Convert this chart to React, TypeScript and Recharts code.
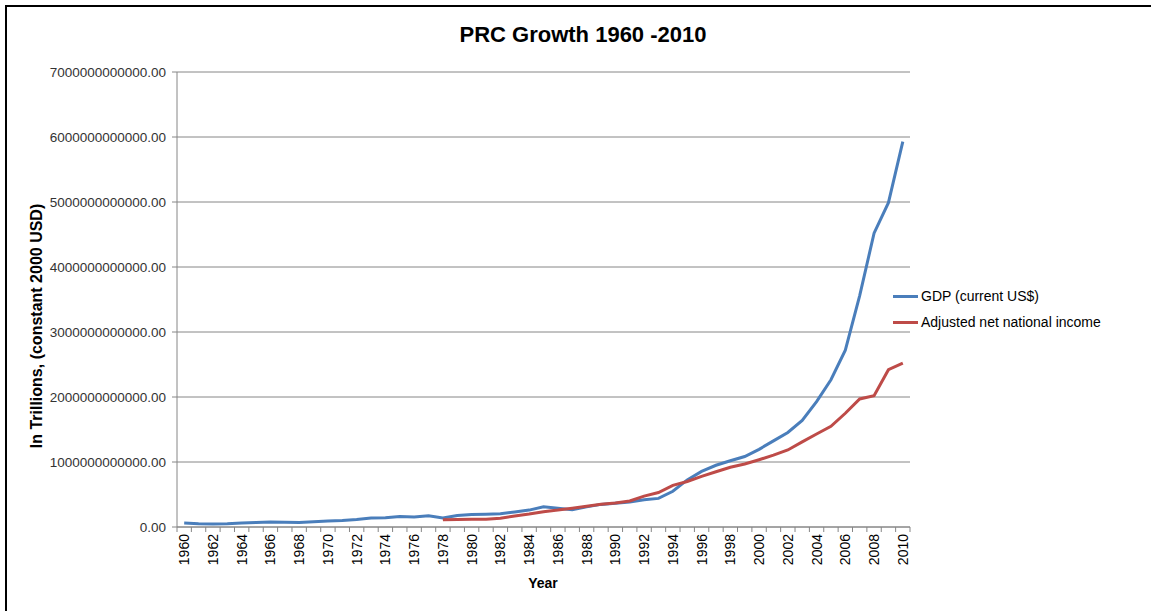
import { LineChart, Line, XAxis, YAxis, CartesianGrid } from 'recharts'

const years = [
  1960, 1961, 1962, 1963, 1964, 1965, 1966, 1967, 1968, 1969,
  1970, 1971, 1972, 1973, 1974, 1975, 1976, 1977, 1978, 1979,
  1980, 1981, 1982, 1983, 1984, 1985, 1986, 1987, 1988, 1989,
  1990, 1991, 1992, 1993, 1994, 1995, 1996, 1997, 1998, 1999,
  2000, 2001, 2002, 2003, 2004, 2005, 2006, 2007, 2008, 2009, 2010,
]

// values in trillions of USD
const gdp = [
  0.06, 0.05, 0.047, 0.051, 0.06, 0.07, 0.077, 0.073, 0.071, 0.08,
  0.093, 0.1, 0.114, 0.139, 0.144, 0.163, 0.154, 0.172, 0.14, 0.178,
  0.191, 0.196, 0.205, 0.231, 0.26, 0.31, 0.29, 0.265, 0.31, 0.348,
  0.365, 0.385, 0.42, 0.44, 0.55, 0.725, 0.855, 0.95, 1.02, 1.085,
  1.195, 1.325, 1.455, 1.64, 1.93, 2.265, 2.72, 3.56, 4.52, 4.99, 5.93,
]

const netIncome = [
  null, null, null, null, null, null, null, null, null, null,
  null, null, null, null, null, null, null, null, 0.11, 0.115,
  0.118, 0.118, 0.135, 0.17, 0.2, 0.235, 0.26, 0.29, 0.32, 0.35,
  0.37, 0.4, 0.475, 0.53, 0.64, 0.7, 0.78, 0.85, 0.92, 0.97,
  1.035, 1.105, 1.185, 1.31, 1.43, 1.55, 1.75, 1.97, 2.02, 2.42, 2.52,
]

const yTicks = [0, 1, 2, 3, 4, 5, 6, 7]
const TRILLION = 1e12

const data = years.map((year, i) => ({
  year,
  gdp: gdp[i] * TRILLION,
  income: netIncome[i] == null ? null : (netIncome[i] as number) * TRILLION,
}))

const W = 1151
const H = 611
const PLOT_LEFT = 177
const PLOT_RIGHT = 910
const PLOT_TOP = 72
const PLOT_BOTTOM = 527
const STEP = (PLOT_RIGHT - PLOT_LEFT) / years.length

const FONT = '"Liberation Sans", Arial, sans-serif'
const BLUE = '#4a7ebb'
const RED = '#be4b48'

function YearTick(props: any) {
  const { x, y, payload, index } = props
  const left = x - STEP / 2
  const last = index === years.length - 1
  return (
    <g>
      <line x1={left} y1={y} x2={left} y2={y + 5} stroke="#868686" />
      {last && <line x1={x + STEP / 2} y1={y} x2={x + STEP / 2} y2={y + 5} stroke="#868686" />}
      {index % 2 === 0 && (
        <text
          x={x + 5}
          y={y + 7}
          transform={`rotate(-90 ${x + 5} ${y + 7})`}
          textAnchor="end"
          fontSize={14}
          fontFamily={FONT}
          fill="#000"
        >
          {payload.value}
        </text>
      )}
    </g>
  )
}

const legendItems = [
  { label: 'GDP (current US$)', color: BLUE },
  { label: 'Adjusted net national income', color: RED },
]

export default function App() {
  return (
    <div style={{ position: 'absolute', left: 0, top: 0, width: W, height: H, overflow: 'hidden', background: '#fff' }}>
      <div
        style={{
          position: 'absolute',
          left: 5,
          top: 5,
          width: W,
          height: H,
          borderLeft: '2px solid #000',
          borderTop: '2px solid #000',
        }}
      />
      <div
        style={{
          position: 'absolute',
          left: 0,
          top: 22,
          width: 1166,
          textAlign: 'center',
          fontFamily: FONT,
          fontWeight: 'bold',
          fontSize: 22,
          color: '#000',
        }}
      >
        PRC Growth 1960 -2010
      </div>
      <div style={{ position: 'absolute', left: 0, top: 0 }}>
        <LineChart
          width={W}
          height={H}
          data={data}
          margin={{ top: PLOT_TOP, right: W - PLOT_RIGHT, bottom: 0, left: 0 }}
        >
          <CartesianGrid vertical={false} stroke="#868686" />
          <XAxis
            dataKey="year"
            type="number"
            domain={[1959.5, 2010.5]}
            ticks={years}
            interval={0}
            height={H - PLOT_BOTTOM}
            tickLine={false}
            tickSize={0}
            tickMargin={0}
            axisLine={{ stroke: '#868686' }}
            tick={<YearTick />}
            label={() => (
              <text x={543} y={588} textAnchor="middle" fontFamily={FONT} fontWeight="bold" fontSize={14} fill="#000">
                Year
              </text>
            )}
          />
          <YAxis
            width={PLOT_LEFT}
            domain={[0, 7 * TRILLION]}
            ticks={yTicks.map((t) => t * TRILLION)}
            tickFormatter={(v: number) => v.toFixed(2)}
            tick={{ fontSize: 13.5, fontFamily: FONT, fill: '#333' }}
            tickSize={5}
            tickMargin={6}
            tickLine={{ stroke: '#868686' }}
            axisLine={{ stroke: '#868686' }}
            label={() => (
              <text
                x={42}
                y={326}
                transform="rotate(-90 42 326)"
                textAnchor="middle"
                fontFamily={FONT}
                fontWeight="bold"
                fontSize={16}
                fill="#000"
              >
                In Trillions, (constant 2000 USD)
              </text>
            )}
          />
          <Line
            type="linear"
            dataKey="gdp"
            name="GDP (current US$)"
            stroke={BLUE}
            strokeWidth={3}
            dot={false}
            isAnimationActive={false}
          />
          <Line
            type="linear"
            dataKey="income"
            name="Adjusted net national income"
            stroke={RED}
            strokeWidth={3}
            dot={false}
            connectNulls={false}
            isAnimationActive={false}
          />
        </LineChart>
      </div>
      <div style={{ position: 'absolute', left: 893, top: 283, fontFamily: FONT, fontSize: 14, color: '#000' }}>
        {legendItems.map((it) => (
          <div key={it.label} style={{ display: 'flex', alignItems: 'center', height: 26 }}>
            <span style={{ display: 'inline-block', width: 25, height: 3, background: it.color, marginRight: 3 }} />
            <span>{it.label}</span>
          </div>
        ))}
      </div>
    </div>
  )
}
